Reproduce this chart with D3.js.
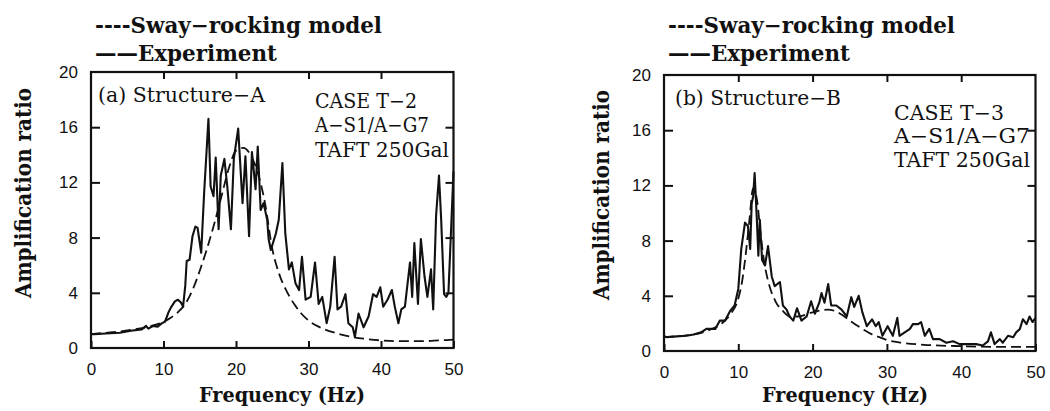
<!DOCTYPE html>
<html lang="en">
<head>
<meta charset="utf-8" />
<title>Amplification ratio vs frequency</title>
<script src="https://cdn.jsdelivr.net/npm/d3@7"></script>
<style>
  body { margin: 0; background: #fff; }
  svg { display: block; }
  .serif { font-family: "DejaVu Serif", serif; fill: #111; }
  .tick text { font-family: "Liberation Sans", Arial, sans-serif; font-size: 17px; fill: #111; }
</style>
</head>
<body>
<svg width="1050" height="411"></svg>
<script>
// axis ticks
var freqTicks = [0, 10, 20, 30, 40, 50];
var ampTicks = [0, 4, 8, 12, 16, 20];

// (a) Structure-A, experiment [Hz, ratio]
var expA = [[0,1.0],[0.5,1.0],[2,1.05],[4,1.1],[5.5,1.25],[7,1.35],[7.6,1.6],[7.9,1.4],[8.6,1.6],[9.2,1.55],
  [9.8,1.8],[10.2,1.9],[10.7,2.6],[11.1,3.0],[11.6,3.4],[12.0,3.5],[12.4,3.3],[12.7,3.0],[13.0,4.5],[13.2,6.3],
  [13.6,6.4],[14.0,8.1],[14.4,8.8],[14.7,8.7],[15.2,6.9],[15.6,11.2],[16.2,16.6],[16.5,11.7],[16.9,11.0],[17.2,13.8],
  [17.6,8.6],[17.9,12.5],[18.4,13.7],[18.8,11.7],[19.3,8.6],[19.7,13.7],[20.3,15.9],[20.9,10.5],[21.3,13.9],[21.8,8.1],
  [22.2,14.2],[22.7,11.5],[23.0,14.6],[23.4,10.0],[23.8,10.5],[24.3,9.3],[24.5,7.9],[24.8,7.1],[25.5,8.3],[25.9,9.3],
  [26.4,13.4],[26.8,8.3],[27.3,5.7],[27.7,6.2],[28.2,4.7],[28.7,4.2],[29.1,6.6],[29.6,3.5],[30.3,3.7],[30.9,6.2],
  [31.4,3.2],[31.9,3.7],[32.5,1.8],[33.0,3.0],[33.6,6.6],[34.0,2.8],[34.5,3.0],[35.1,3.9],[35.5,1.8],[36.1,1.5],
  [36.4,0.8],[36.9,2.5],[37.6,1.5],[38.3,2.3],[38.9,3.9],[39.4,3.7],[39.9,4.4],[40.3,3.0],[40.9,3.5],[41.5,4.2],
  [41.9,3.0],[42.4,1.8],[42.8,2.8],[43.3,3.0],[44.0,6.2],[44.3,3.7],[44.6,7.6],[45.1,3.2],[45.5,7.9],[46.0,5.2],
  [46.4,3.7],[46.9,5.7],[47.2,2.8],[47.6,9.6],[48.0,12.5],[48.3,9.3],[48.7,3.9],[49.0,3.7],[49.3,4.0],[49.7,9.0],[50,12.8]];

// (a) Structure-A, sway-rocking model
var modelA = [[0,1.0],[2,1.1],[4,1.2],[6,1.35],[8,1.55],[10,1.9],[11,2.2],[12,2.6],[13,3.2],[14,4.2],[15,5.6],
  [16,7.2],[17,9.0],[18,11.0],[19,13.0],[20,14.3],[21,14.5],[22,14.0],[23,12.7],[24,10.5],[25,7.2],[26,5.3],
  [27,4.1],[28,3.2],[29,2.5],[30,2.0],[32,1.4],[34,1.05],[36,0.8],[38,0.65],[40,0.55],[42,0.5],[44,0.5],
  [46,0.5],[48,0.55],[50,0.6]];

// (b) Structure-B, experiment
var expB = [[0,1.1],[0.3,1.0],[1.7,1.06],[3,1.1],[4,1.2],[5,1.35],[5.7,1.6],[6.9,1.6],[7.5,2.2],[8.2,2.2],
  [8.9,2.9],[9.5,3.3],[10.0,4.5],[10.4,7.4],[10.9,9.3],[11.3,9.05],[11.6,7.4],[11.8,10.7],[12.0,11.2],[12.2,12.9],
  [12.5,9.5],[12.7,6.9],[12.9,9.5],[13.2,6.6],[13.6,6.2],[14.0,7.6],[14.5,5.4],[14.9,4.7],[15.6,5.0],[16.0,3.3],
  [16.5,3.0],[16.9,2.5],[17.4,2.2],[17.9,3.1],[18.5,2.2],[19.2,2.5],[19.8,3.6],[20.3,2.7],[20.9,3.5],[21.2,4.2],
  [21.6,3.5],[22.1,4.85],[22.5,3.3],[23.2,3.3],[23.9,3.0],[24.6,2.5],[25.2,3.9],[25.6,3.2],[26.2,4.0],[26.7,2.8],
  [27.3,1.8],[28.0,2.3],[28.5,1.8],[28.9,2.1],[29.4,1.1],[30.1,1.8],[30.8,1.1],[31.4,2.4],[31.7,1.1],[32.4,1.35],
  [33.1,1.6],[33.5,1.95],[34.2,1.95],[34.6,2.1],[35.1,1.1],[35.7,1.6],[36.2,0.86],[37.1,0.86],[38.0,0.6],[38.9,0.7],
  [39.8,0.5],[41.1,0.5],[42.0,0.5],[42.9,0.4],[43.6,0.7],[44.0,1.35],[44.5,0.5],[45.2,0.86],[45.6,0.6],[46.3,1.1],
  [47.0,1.0],[47.4,1.35],[47.9,1.6],[48.3,2.3],[48.8,1.95],[49.2,2.5],[49.6,2.1],[50,2.4]];

// (b) Structure-B, sway-rocking model
var modelB = [[0,1.0],[2,1.08],[4,1.2],[6,1.5],[8,2.1],[9,2.7],[10,3.8],[10.5,5.0],[11,7.0],[11.5,9.5],[12,11.8],
  [12.5,11.0],[13,8.5],[13.5,6.4],[14,5.1],[15,3.6],[16,2.9],[17,2.5],[18,2.5],[20,2.8],[22,3.0],[23,2.9],[24,2.6],
  [25,2.2],[26,1.85],[27,1.5],[28,1.2],[29,1.0],[30,0.8],[32,0.6],[35,0.45],[40,0.35],[45,0.3],[50,0.3]];

var legendModel = "----Sway\u2212rocking model";
var legendExp = "\u2014\u2014Experiment";

var svg = d3.select("svg");
svg.append("rect").attr("width", 1050).attr("height", 411).attr("fill", "#fff");

var panels = [
  { left: 91, right: 453.5, top: 72, bottom: 348, exp: expA, model: modelA,
    title: "(a) Structure\u2212A", titleX: 98, titleY: 102, titleLen: 167,
    info: ["CASE T\u22122", "A\u2212S1/A\u2212G7", "TAFT 250Gal"], infoX: 315, infoY: [108, 132, 157], infoLen: [102, 114, 134],
    ylabX: 31, ylabY: 193, xlabX: 282 },
  { left: 664, right: 1035.5, top: 75, bottom: 351, exp: expB, model: modelB,
    title: "(b) Structure\u2212B", titleX: 675, titleY: 105, titleLen: 166,
    info: ["CASE T\u22123", "A\u2212S1/A\u2212G7", "TAFT 250Gal"], infoX: 894, infoY: [120, 143, 167], infoLen: [110, 136, 136],
    ylabX: 609, ylabY: 195, xlabX: 845 }
];

panels.forEach(function(p) {
  var x = d3.scaleLinear().domain([0, 50]).range([p.left, p.right]);
  var y = d3.scaleLinear().domain([0, 20]).range([p.bottom, p.top]);
  var g = svg.append("g");

  // bottom axis with inward ticks
  g.append("g").attr("class", "tick-b")
    .attr("transform", "translate(0," + p.bottom + ")")
    .call(d3.axisBottom(x).tickValues(freqTicks).tickSize(-7).tickPadding(15).tickSizeOuter(0))
    .call(function(a) { a.select(".domain").remove(); });

  // top ticks
  g.append("g")
    .attr("transform", "translate(0," + p.top + ")")
    .call(d3.axisTop(x).tickValues(freqTicks.slice(1, -1)).tickSize(-7).tickFormat("").tickSizeOuter(0))
    .call(function(a) { a.select(".domain").remove(); });

  // left axis
  g.append("g")
    .attr("transform", "translate(" + p.left + ",0)")
    .call(d3.axisLeft(y).tickValues(ampTicks).tickSize(-9).tickPadding(13).tickSizeOuter(0))
    .call(function(a) {
      a.select(".domain").remove();
      a.selectAll(".tick line").filter(function(d) { return d === 0 || d === 20; }).remove();
    });

  // right ticks
  g.append("g")
    .attr("transform", "translate(" + p.right + ",0)")
    .call(d3.axisRight(y).tickValues(ampTicks.slice(1, -1)).tickSize(-8).tickFormat("").tickSizeOuter(0))
    .call(function(a) { a.select(".domain").remove(); });

  g.selectAll(".tick line").attr("stroke", "#111").attr("stroke-width", 2);

  // frame
  g.append("rect")
    .attr("x", p.left).attr("y", p.top)
    .attr("width", p.right - p.left).attr("height", p.bottom - p.top)
    .attr("fill", "none").attr("stroke", "#111").attr("stroke-width", 2.2);

  var line = d3.line().x(function(d) { return x(d[0]); }).y(function(d) { return y(d[1]); });

  g.append("path").datum(p.model)
    .attr("d", line.curve(d3.curveMonotoneX))
    .attr("fill", "none").attr("stroke", "#111").attr("stroke-width", 1.8)
    .attr("stroke-dasharray", "10,5");

  g.append("path").datum(p.exp)
    .attr("d", line.curve(d3.curveLinear))
    .attr("fill", "none").attr("stroke", "#111").attr("stroke-width", 2.1)
    .attr("stroke-linejoin", "round");

  // legend
  g.append("text").attr("class", "serif")
    .attr("x", p.left + 4).attr("y", 33)
    .attr("font-size", 22).attr("font-weight", "bold")
    .attr("textLength", 287).attr("lengthAdjust", "spacingAndGlyphs")
    .text(legendModel);
  g.append("text").attr("class", "serif")
    .attr("x", p.left + 4).attr("y", 61)
    .attr("font-size", 22).attr("font-weight", "bold")
    .attr("textLength", 182).attr("lengthAdjust", "spacingAndGlyphs")
    .text(legendExp);

  // annotations
  g.append("text").attr("class", "serif")
    .attr("x", p.titleX).attr("y", p.titleY)
    .attr("font-size", 20)
    .attr("textLength", p.titleLen).attr("lengthAdjust", "spacingAndGlyphs")
    .text(p.title);

  p.info.forEach(function(t, i) {
    g.append("text").attr("class", "serif")
      .attr("x", p.infoX).attr("y", p.infoY[i])
      .attr("font-size", 20)
      .attr("textLength", p.infoLen[i]).attr("lengthAdjust", "spacingAndGlyphs")
      .text(t);
  });

  // axis titles
  g.append("text").attr("class", "serif")
    .attr("transform", "translate(" + p.ylabX + "," + p.ylabY + ") rotate(-90)")
    .attr("text-anchor", "middle")
    .attr("font-size", 22).attr("font-weight", "bold")
    .attr("textLength", 210).attr("lengthAdjust", "spacingAndGlyphs")
    .text("Amplification ratio");

  g.append("text").attr("class", "serif")
    .attr("x", p.xlabX).attr("y", 402)
    .attr("text-anchor", "middle")
    .attr("font-size", 21).attr("font-weight", "bold")
    .attr("textLength", 166).attr("lengthAdjust", "spacingAndGlyphs")
    .text("Frequency (Hz)");
});
</script>
</body>
</html>
